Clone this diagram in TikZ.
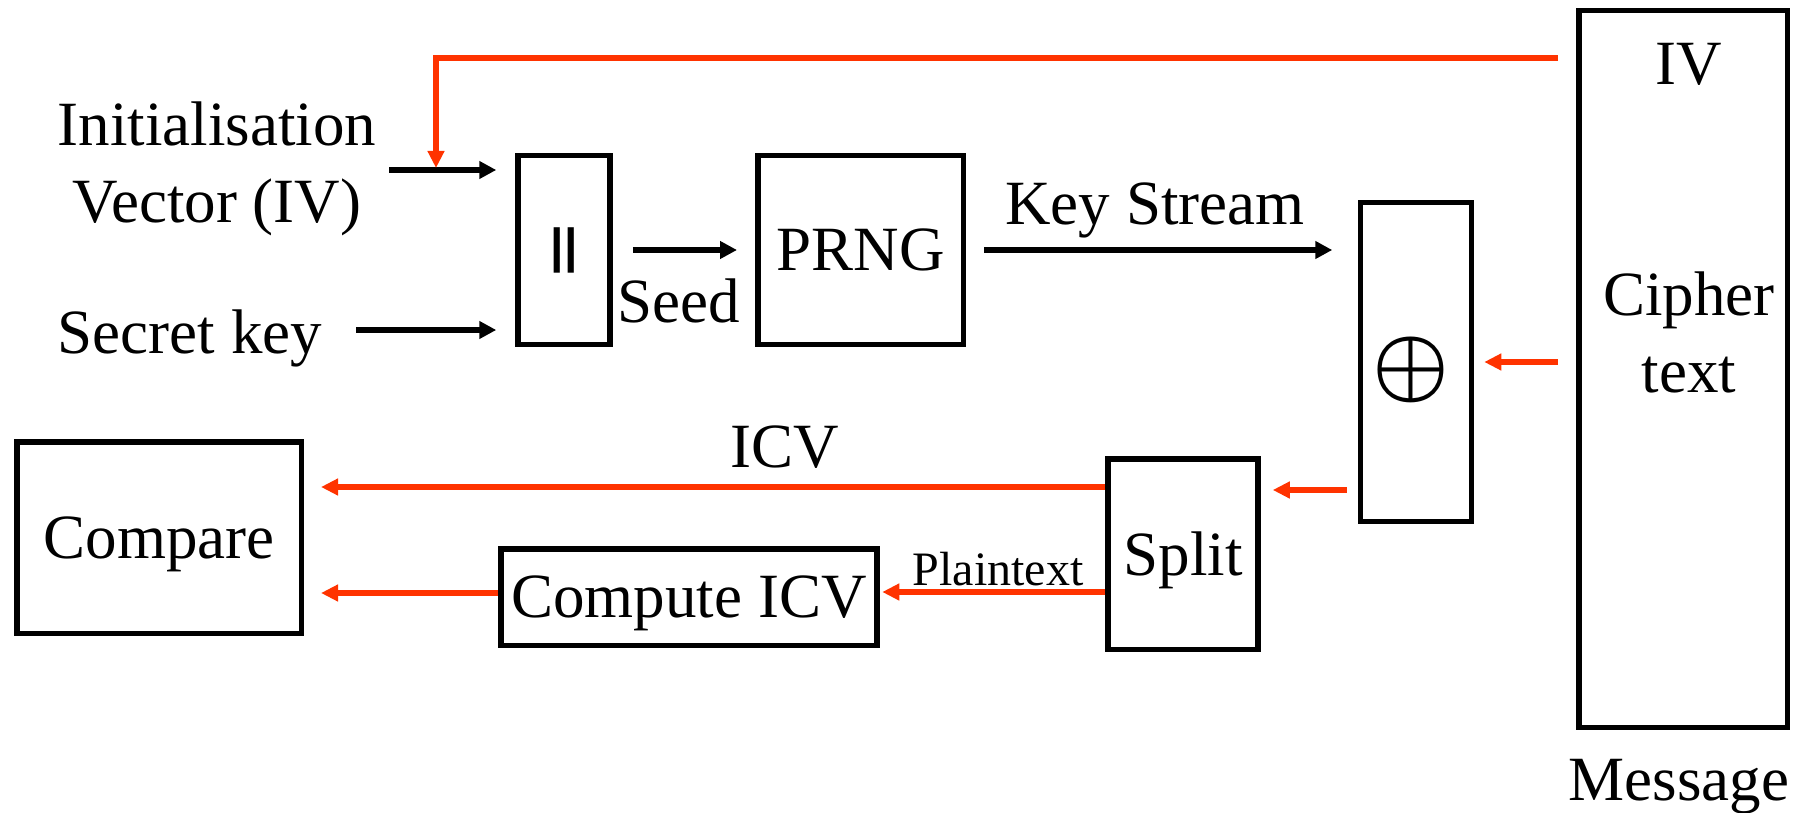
\documentclass[tikz,border=0pt]{standalone}
\usepackage{amsmath}
\usepackage{fontspec}
\setmainfont{Liberation Serif}
\newfontfamily\barfont{Liberation Sans}
\usetikzlibrary{arrows.meta,calc}
\definecolor{ired}{RGB}{255,51,0}
\begin{document}
\begin{tikzpicture}[x=1pt,y=-1pt,
  box/.style={draw=black,line width=5.5pt,inner sep=0pt,text depth=0pt,font=\fontsize{63}{77.5}\selectfont},
  lbl/.style={inner sep=0pt,font=\fontsize{63}{77.5}\selectfont,align=center},
  blk/.style={draw=black,line width=5.5pt,-{Triangle[length=17pt,width=17pt]}},
  redarrow/.style={draw=ired,line width=5.5pt,-{Triangle[length=17pt,width=16pt]}}]
\useasboundingbox (0,0) rectangle (1793,813);
% boxes
\node[box,text depth=,minimum width=92pt,minimum height=188.5pt] (cat) at (564,250) {{\barfont\bfseries\fontsize{48}{48}\selectfont||}};
\node[box,minimum width=205.5pt,minimum height=188.5pt] (prng) at (860.5,250) {PRNG};
\node[box,minimum width=111pt,minimum height=318.5pt] (xor) at (1416,362) {\raisebox{-4pt}{\kern-10pt\resizebox{77pt}{!}{$\boldsymbol{\oplus}$}}};
\node[box,minimum width=208.5pt,minimum height=716.5pt] (msg) at (1683,369) {};
\node[box,minimum width=150pt,minimum height=190.5pt] (split) at (1183,554) {Split};
\node[box,minimum width=376pt,minimum height=96.5pt] (cicv) at (689,597) {Compute ICV};
\node[box,minimum width=284.5pt,minimum height=191.5pt] (cmp) at (159,537.5) {Compare};
% labels
\node[lbl,anchor=base] (ivt) at (1689,85) {IV};
\node[lbl] (ct) at (1689,332.5) {Cipher\\text};
\node[lbl,anchor=base] (msgl) at (1679,800) {Message};
\node[lbl] (ivl) at (217,169) {Initialisation\\Vector (IV)};
\node[lbl,anchor=base] (skl) at (190,353) {Secret key};
\node[lbl,anchor=base] (seedl) at (679,322) {Seed};
\node[lbl,anchor=base] (ksl) at (1155,225) {Key Stream};
\node[lbl,anchor=base] (icvl) at (785,467) {ICV};
\node[lbl,anchor=base,font=\fontsize{48}{58}\selectfont] (ptl) at (998,585) {Plaintext};
% helper coordinates
\coordinate (ivs) at (389,170);
\coordinate (sks) at (356,330);
\coordinate (ivdrop) at (436,168);
\coordinate (y58) at (0,58);
\coordinate (y490) at (0,490);
\coordinate (y487) at (0,487);
\coordinate (y592) at (0,592);
\coordinate (y593) at (0,593);
% black arrows
\draw[blk,shorten >=19pt] (ivs) -- (ivs -| cat.west);
\draw[blk,shorten >=19pt] (sks) -- (sks -| cat.west);
\draw[blk,shorten <=20pt,shorten >=18pt] (cat.east) -- (prng.west);
\draw[blk,shorten <=18pt,shorten >=25.5pt] (prng.east) -- (prng.east -| xor.west);
% red arrows
\draw[redarrow,shorten <=18pt] (msg.west |- y58) -| (ivdrop);
\draw[redarrow,shorten <=18pt,shorten >=10pt] (xor.east -| msg.west) -- (xor.east);
\draw[redarrow,shorten <=11pt,shorten >=12pt] (xor.west |- y490) -- (split.east |- y490);
\draw[redarrow,shorten >=17pt] (split.west |- y487) -- (cmp.east |- y487);
\draw[redarrow,shorten >=2.5pt] (split.west |- y592) -- (cicv.east |- y592);
\draw[redarrow,shorten >=17pt] (cicv.west |- y593) -- (cmp.east |- y593);
\end{tikzpicture}
\end{document}
